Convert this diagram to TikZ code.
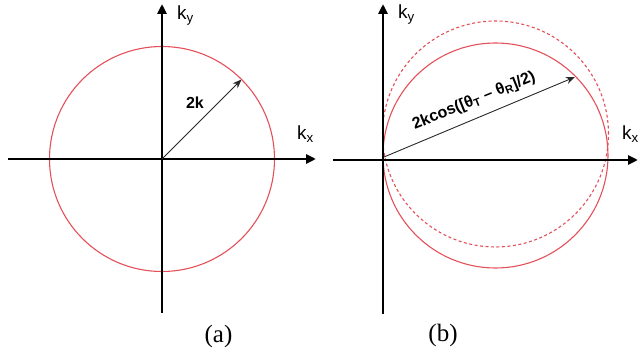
\documentclass[tikz,border=0pt]{standalone}
\usepackage{fontspec}
\setmainfont{Liberation Serif}
\setsansfont{Liberation Sans}
\usetikzlibrary{arrows.meta}
\definecolor{circred}{RGB}{228,80,90}
\definecolor{arrgray}{RGB}{40,40,40}
\begin{document}
\begin{tikzpicture}[x=1pt,y=1pt,
  axis/.style={line width=2.6pt,-{Triangle[length=10pt,width=9pt]}},
  circ/.style={draw=circred,line width=1.1pt},
  vec/.style={draw=arrgray,line width=0.9pt,-{Stealth[length=9pt,width=7pt]}},
  axlab/.style={font=\sffamily\fontsize{19}{19}\selectfont,inner sep=0pt,anchor=base west},
  veclab/.style={font=\sffamily\bfseries\fontsize{16}{16}\selectfont,inner sep=0pt},
  captext/.style={font=\rmfamily\fontsize{25}{25}\selectfont,inner sep=0pt}]
\useasboundingbox (0,0) rectangle (641,354);
% ---- panel (a)
\coordinate (Oa) at (162,195);
\coordinate (axL) at (8,195);
\coordinate (axR) at (316,195);
\coordinate (ayB) at (162,41);
\coordinate (ayT) at (162,350);
\coordinate (Pa) at (241.5,274.5);
\draw[circ] (Oa) circle[radius=112.5];
\draw[axis] (axL) -- (axR);
\draw[axis] (ayB) -- (ayT);
\draw[vec] (Oa) -- (Pa);
\node[veclab] (lab2k) at (195,251) {2k};
\node[axlab] (kya) at (177,334) {k\textsubscript{y}};
\node[axlab] (kxa) at (297,214) {k\textsubscript{x}};
\node[captext] (capa) at (218.5,18) {(a)};
% ---- panel (b)
\coordinate (Ob) at (383,194);
\coordinate (bxL) at (333,194);
\coordinate (bxR) at (638,194);
\coordinate (byB) at (383,40);
\coordinate (byT) at (383,350);
\coordinate (Cs) at (495.5,198.5);
\coordinate (Cd) at (495.5,220);
\coordinate (Pb) at (575,277);
\coordinate (Vb) at (384,197);
\draw[circ] (Cs) circle[radius=112.5];
\draw[circ,dash pattern=on 3pt off 2.5pt] (Cd) circle[radius=113];
\draw[axis] (bxL) -- (bxR);
\draw[axis] (byB) -- (byT);
\draw[vec] (Vb) -- (Pb);
\node[veclab,rotate=22] (labcos) at (474,253) {2kcos([θ\textsubscript{T} – θ\textsubscript{R}]/2)};
\node[axlab] (kyb) at (398,335) {k\textsubscript{y}};
\node[axlab] (kxb) at (622,214) {k\textsubscript{x}};
\node[captext] (capb) at (443,19) {(b)};
\end{tikzpicture}
\end{document}
